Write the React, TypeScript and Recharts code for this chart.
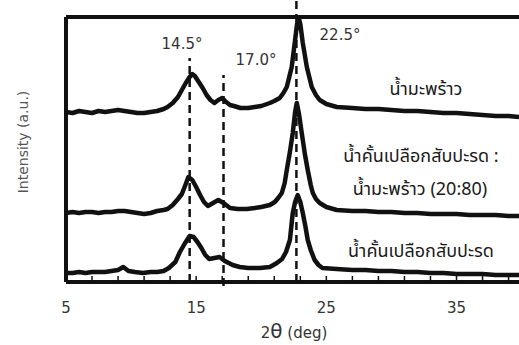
import React from 'react';
import { LineChart, Line, XAxis, YAxis, ReferenceLine, Customized } from 'recharts';

// 2θ (deg) vs intensity (a.u.), offset traces
const coconutWater: [number, number][] = [
  [5, 170], [5.5, 169], [6, 171], [6.5, 170], [7, 169], [7.5, 171], [8, 170], [8.5, 171], [9, 172], [9.5, 171],
  [10, 170], [10.5, 169], [11, 169], [11.5, 170], [12, 171], [12.5, 173], [12.8, 175], [13.2, 179], [13.6, 185],
  [13.9, 192], [14.2, 199], [14.5, 205], [14.7, 208], [14.9, 206], [15.2, 200], [15.5, 194], [15.8, 187], [16.1, 182],
  [16.4, 179], [16.7, 182], [17, 184], [17.3, 180], [17.6, 177], [17.9, 176], [18.4, 174], [19, 174], [19.5, 175],
  [20, 176], [20.66, 179], [21, 181], [21.42, 184], [21.7, 189], [21.96, 195], [22.15, 205], [22.34, 215],
  [22.57, 239], [22.75, 258], [22.88, 264], [23, 258], [23.19, 239], [23.5, 215], [23.88, 195], [24.2, 187],
  [24.49, 182], [25, 178], [25.8, 175], [27, 174], [28, 173], [29, 173], [30, 172], [31, 171], [32, 171], [33, 170],
  [34, 169], [35, 169], [36, 168], [37, 167], [38, 166], [39, 166], [39.8, 165],
];

const mixture: [number, number][] = [
  [5, 69], [5.5, 70], [6, 69], [6.5, 70], [7, 70], [7.5, 69], [8, 70], [8.5, 70], [9, 71], [9.5, 71], [10, 70],
  [10.5, 69], [11, 68], [11.5, 69], [12, 71], [12.5, 72], [12.8, 73], [13.2, 77], [13.6, 83], [13.9, 88], [14.2, 98],
  [14.4, 105], [14.7, 102], [15, 95], [15.3, 87], [15.6, 80], [15.9, 76], [16.3, 79], [16.7, 82], [17.1, 79],
  [17.6, 74], [18.2, 73], [18.9, 73], [19.5, 74], [20, 75], [20.66, 77], [21.04, 80], [21.3, 84], [21.58, 89],
  [21.8, 99], [21.96, 112], [22.2, 130], [22.42, 149], [22.6, 170], [22.73, 179], [22.9, 168], [23.11, 149],
  [23.35, 128], [23.57, 112], [23.8, 97], [23.96, 89], [24.2, 83], [24.49, 79], [25, 75], [25.8, 72], [27, 71],
  [28, 71], [29, 70], [30, 70], [31, 69], [32, 69], [33, 68], [34, 68], [35, 68], [36, 67], [37, 67], [38, 67],
  [39, 66], [39.8, 66],
];

const pineapplePeel: [number, number][] = [
  [5, 9], [5.5, 9], [6, 10], [6.5, 9], [7, 10], [7.5, 10], [8, 10], [8.5, 11], [9, 12], [9.4, 15], [9.8, 11],
  [10.3, 10], [10.9, 9], [11.5, 10], [12, 10], [12.5, 11], [12.9, 14], [13.4, 20], [13.75, 30], [14.1, 38],
  [14.5, 46], [14.8, 45], [15.1, 40], [15.4, 34], [15.7, 27], [16, 23], [16.4, 24], [16.8, 25], [17.2, 21],
  [17.8, 17], [18.35, 15], [19, 14], [19.9, 14], [20.66, 15], [21.2, 19], [21.6, 23], [21.9, 30], [22.2, 42],
  [22.42, 69], [22.6, 80], [22.8, 87], [23, 80], [23.19, 69], [23.4, 55], [23.57, 42], [23.8, 32], [24.1, 22],
  [24.4, 17], [24.7, 14], [25.8, 13], [27, 12], [28, 12], [29, 11], [30, 11], [31, 10], [32, 10], [33, 9], [34, 9],
  [35, 8], [36, 8], [37, 8], [38, 7], [39, 7], [39.8, 7],
];

const tickValues = [5, 7, 9, 11, 13, 15, 17, 19, 21, 23, 25, 27, 29, 31, 33, 35, 37, 39];
const majorTicks = [5, 15, 25, 35];

// peak marker lines: [position, top of dashed line, bottom]
const peakLines: [number, number, number][] = [
  [14.5, 224, 0],
  [17.1, 207, -4],
  [22.7, 282, 0],
];

const toRows = (arr: [number, number][]) => arr.map(([x, y]) => ({ x, y }));

const FONT = "'DejaVu Sans', Verdana, sans-serif";
const THAI = "'Noto Sans Thai', 'Noto Sans Thai UI', 'Noto Sans', 'DejaVu Sans', sans-serif";

const XTick = (props: any) => {
  const { x, y, payload } = props;
  const v = payload.value;
  const major = majorTicks.includes(v);
  return (
    <g>
      <line x1={x} x2={x} y1={y} y2={y - 6} stroke="#111" strokeWidth={1.5} />
      {major && (
        <text x={x} y={y + 31} textAnchor="middle" fontFamily={FONT} fontSize={15} fill="#333">
          {v}
        </text>
      )}
    </g>
  );
};

const Annotations = () => (
  <g>
    <text x={182} y={49} textAnchor="middle" fontFamily={FONT} fontSize={15} fill="#333">14.5°</text>
    <text x={256} y={65} textAnchor="middle" fontFamily={FONT} fontSize={15} fill="#333">17.0°</text>
    <text x={340} y={40} textAnchor="middle" fontFamily={FONT} fontSize={15} fill="#333">22.5°</text>
    <text x={426} y={95} textAnchor="middle" fontFamily={THAI} fontSize={18} fill="#1a1a1a">น้ำมะพร้าว</text>
    <text x={421} y={162} textAnchor="middle" fontFamily={THAI} fontSize={18} fill="#1a1a1a">น้ำคั้นเปลือกสับปะรด :</text>
    <text x={420} y={195} textAnchor="middle" fontFamily={THAI} fontSize={18} fill="#1a1a1a">น้ำมะพร้าว (20:80)</text>
    <text x={421} y={257} textAnchor="middle" fontFamily={THAI} fontSize={18} fill="#1a1a1a">น้ำคั้นเปลือกสับปะรด</text>
    <text x={294} y={338} textAnchor="middle" fontFamily={FONT} fontSize={15} fill="#333">
      2<tspan fontSize={20}>θ</tspan> (deg)
    </text>
    <text
      x={23}
      y={142}
      transform="rotate(-90 23 142)"
      textAnchor="middle"
      dominantBaseline="central"
      fontFamily={FONT}
      fontSize={14}
      fill="#555"
    >
      Intensity (a.u.)
    </text>
  </g>
);

export default function App() {
  return (
    <div style={{ position: 'absolute', left: 0, top: 0, width: 519, height: 345, background: '#fff' }}>
      <LineChart width={519} height={345} margin={{ top: 17, right: 0, bottom: 0, left: 66 }}>
        <XAxis
          type="number"
          dataKey="x"
          domain={[5, 39.8]}
          allowDataOverflow
          ticks={tickValues}
          interval={0}
          tick={<XTick />}
          tickLine={false}
          tickSize={0}
          tickMargin={0}
          height={63}
          axisLine={{ stroke: '#111', strokeWidth: 4 }}
        />
        <YAxis type="number" domain={[0, 265]} allowDataOverflow width={0} hide />
        <ReferenceLine y={265} stroke="#111" strokeWidth={4} />
        <ReferenceLine x={5} stroke="#111" strokeWidth={4} />
        {peakLines.map(([px, top, bottom]) => (
          <ReferenceLine
            key={px}
            segment={[{ x: px, y: bottom }, { x: px, y: top }]}
            stroke="#111"
            strokeWidth={2.5}
            strokeDasharray="8 5"
            ifOverflow="visible"
          />
        ))}
        <Line data={toRows(coconutWater)} dataKey="y" type="linear" dot={false} stroke="#111" strokeWidth={4.5} strokeLinejoin="round" isAnimationActive={false} />
        <Line data={toRows(mixture)} dataKey="y" type="linear" dot={false} stroke="#111" strokeWidth={4.5} strokeLinejoin="round" isAnimationActive={false} />
        <Line data={toRows(pineapplePeel)} dataKey="y" type="linear" dot={false} stroke="#111" strokeWidth={4.5} strokeLinejoin="round" isAnimationActive={false} />
        <Customized component={Annotations} />
      </LineChart>
    </div>
  );
}
